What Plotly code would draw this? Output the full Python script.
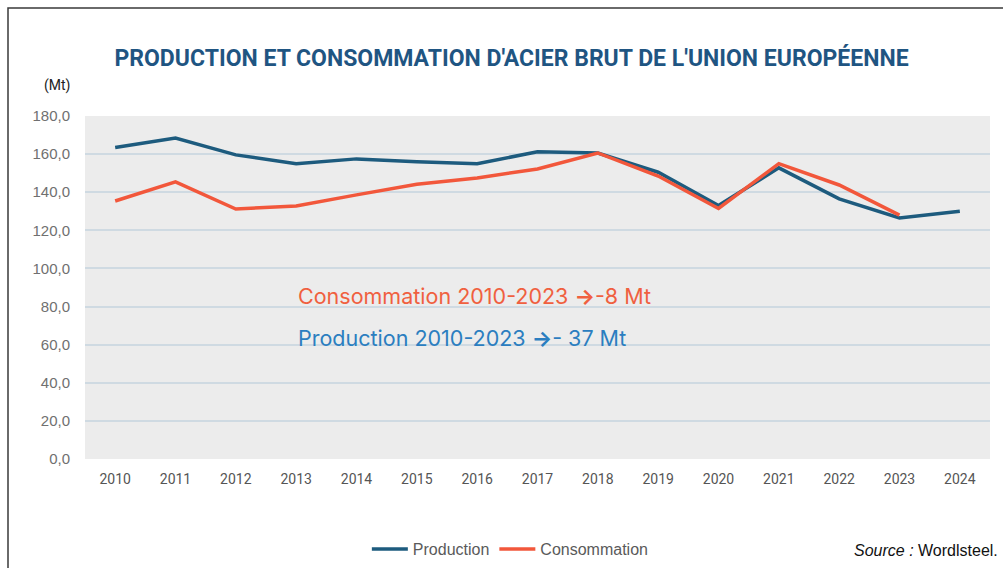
import plotly.graph_objects as go

# Données (Mt)
years = [str(y) for y in range(2010, 2025)]
production = [163.5, 168.4, 159.6, 155.0, 157.5, 156.0, 155.0, 161.2, 160.6, 150.5, 133.0, 152.8, 136.5, 126.5, 130.0]
consommation = [135.4, 145.4, 131.2, 132.8, 138.6, 144.2, 147.5, 152.2, 160.6, 148.5, 131.5, 155.0, 143.8, 128.0]
y_ticks = [0, 20, 40, 60, 80, 100, 120, 140, 160, 180]

BLUE = "#1d5b7e"
ORANGE = "#f2573b"

fig = go.Figure()
fig.add_trace(go.Scatter(x=years, y=production, mode="lines", name="Production",
                         line=dict(color=BLUE, width=3.5)))
fig.add_trace(go.Scatter(x=years[:len(consommation)], y=consommation, mode="lines", name="Consommation",
                         line=dict(color=ORANGE, width=3.5)))

fig.update_layout(
    width=1003, height=568,
    margin=dict(l=85, r=13, t=116, b=109),
    paper_bgcolor="white",
    plot_bgcolor="#ececec",
    separators=", ",
    font=dict(family="Roboto, sans-serif", color="#5a5a5a"),
    title=dict(text="<b>PRODUCTION ET CONSOMMATION D'ACIER BRUT DE L'UNION EUROPÉENNE</b>",
               font=dict(family="Roboto, sans-serif", size=23, color="#1f5582"),
               x=0.51, xanchor="center", y=0.898, yanchor="middle"),
    showlegend=True,
    legend=dict(orientation="h", x=0.47, xanchor="center",
                yref="container", y=(568 - 549) / 568, yanchor="middle",
                font=dict(family="Liberation Sans, Arial, sans-serif", size=16, color="#5a5a5a"),
                itemwidth=36, bgcolor="rgba(0,0,0,0)"),
)

fig.update_xaxes(type="category", range=[-0.5, len(years) - 0.5],
                 showgrid=False, zeroline=False, showline=False, ticks="",
                 ticklabelstandoff=10, automargin=False,
                 tickfont=dict(family="Roboto, sans-serif", size=14, color="#555555"))
fig.update_yaxes(range=[0, 180], tickvals=y_ticks, tickformat=".1f",
                 showgrid=True, gridcolor="#cfdae2", gridwidth=1.5, zeroline=False,
                 ticklabelstandoff=14, automargin=False,
                 tickfont=dict(family="Liberation Sans, Arial, sans-serif", size=15, color="#707070"))

# Cadre extérieur
fig.add_shape(type="rect", xref="paper", yref="paper",
              x0=(8 - 85) / 905, x1=1.05, y0=-0.4, y1=(459 - 8) / 343,
              line=dict(color="#3a3a3a", width=1.5), fillcolor="rgba(0,0,0,0)", layer="below")

fig.add_annotation(text="(Mt)", xref="paper", yref="paper", x=(42 - 85) / 905, y=(459 - 85) / 343,
                   xanchor="left", yanchor="middle", showarrow=False,
                   font=dict(family="Roboto, sans-serif", size=14, color="#222222"))

fig.add_annotation(text="Consommation 2010-2023 <b>→</b>-8 Mt", xref="paper", yref="y",
                   x=(296 - 85) / 905, y=85.5, xanchor="left", yanchor="middle", showarrow=False,
                   font=dict(family="Inter, Open Sans, sans-serif", size=21.5, color="#f0603f"))
fig.add_annotation(text="Production 2010-2023 <b>→</b>- 37 Mt", xref="paper", yref="y",
                   x=(296 - 85) / 905, y=63.5, xanchor="left", yanchor="middle", showarrow=False,
                   font=dict(family="Inter, Open Sans, sans-serif", size=21.5, color="#2b7ec0"))

fig.add_annotation(text="<i>Source :</i> Wordlsteel.", xref="paper", yref="paper",
                   x=(1000 - 85) / 905, y=(459 - 550) / 343, xanchor="right", yanchor="middle",
                   showarrow=False,
                   font=dict(family="Liberation Sans, Arial, sans-serif", size=16, color="#111111"))

# la page ajoute une marge de 8 px autour du graphique : on l'enlève
fig.write_html("out.html", config={"displayModeBar": False},
               post_script="document.body.style.margin='0';")
